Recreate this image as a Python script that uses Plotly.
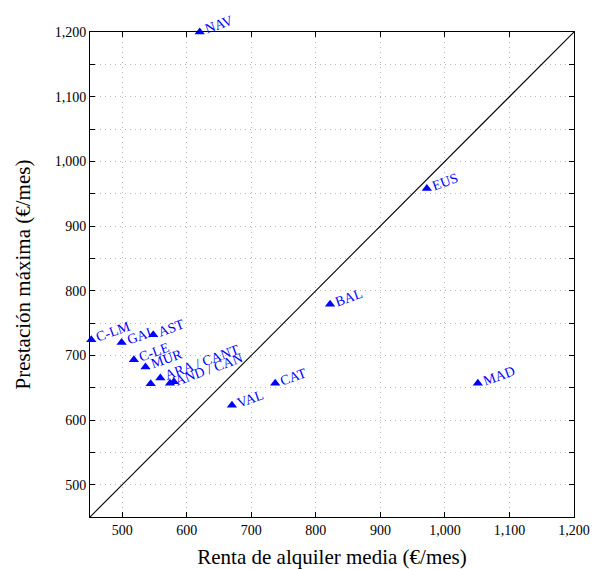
import math
import plotly.graph_objects as go

# --- data ---
regions = ["NAV", "EUS", "BAL", "MAD", "CAT", "VAL", "C-LM", "GAL", "AST",
           "C-LE", "MUR", "ARA / CANT", "AND / CAN", "", ""]
rent = [620, 972, 822, 1051, 737, 670, 452, 499, 548, 518, 536, 559, 574, 544, 580]
benefit = [1200, 958, 779, 657, 657, 623, 724, 720, 732, 693, 682, 665, 657, 656, 659]
diag = [450, 1200]
x_ticks = [500, 600, 700, 800, 900, 1000, 1100, 1200]
y_ticks = [500, 600, 700, 800, 900, 1000, 1100, 1200]

BLUE = "#0000ff"
FONT = "Liberation Serif"
GRIDC = "#b8b8b8"
GDASH = "1px,4px"

fig = go.Figure()
fig.add_trace(go.Scatter(x=diag, y=diag, mode="lines",
                         line=dict(color="black", width=1.1), hoverinfo="skip",
                         showlegend=False))
fig.add_trace(go.Scatter(x=rent, y=benefit, mode="markers",
                         marker=dict(symbol="triangle-up", size=9, color=BLUE),
                         cliponaxis=False, showlegend=False))

theta = math.radians(20)
W, H, d = 120, 18, 6
for xv, yv, lab in zip(rent, benefit, regions):
    if not lab:
        continue
    r = d + W / 2
    fig.add_annotation(x=xv, y=yv, xref="x", yref="y", text=lab,
                       showarrow=False, textangle=-20, width=W, height=H,
                       align="left", valign="middle", borderpad=0,
                       xanchor="center", yanchor="middle",
                       xshift=r * math.cos(theta), yshift=r * math.sin(theta),
                       font=dict(family=FONT, size=14, color=BLUE))

common = dict(range=[450, 1200], tickformat=",", ticks="inside", ticklen=5,
              tickcolor="black", showline=True, linecolor="black", linewidth=1,
              mirror="allticks", zeroline=False, showgrid=True,
              gridcolor=GRIDC, griddash=GDASH, gridwidth=1,
              tickfont=dict(family=FONT, size=14, color="black"))
fig.update_xaxes(tickvals=x_ticks, **common,
                 title=dict(text="Renta de alquiler media (€/mes)", standoff=15,
                            font=dict(family=FONT, size=21, color="black")))
fig.update_yaxes(tickvals=y_ticks, **common,
                 minor=dict(tick0=450, dtick=50, ticks="inside", ticklen=5,
                            tickcolor="black", showgrid=True,
                            gridcolor=GRIDC, griddash=GDASH),
                 title=dict(text="Prestación máxima (€/mes)", standoff=18,
                            font=dict(family=FONT, size=21, color="black")))
fig.update_layout(width=593, height=569,
                  margin=dict(l=90, r=19, t=32, b=52, autoexpand=False),
                  plot_bgcolor="white", paper_bgcolor="white",
                  font=dict(family=FONT))
fig.write_html("out.html")
